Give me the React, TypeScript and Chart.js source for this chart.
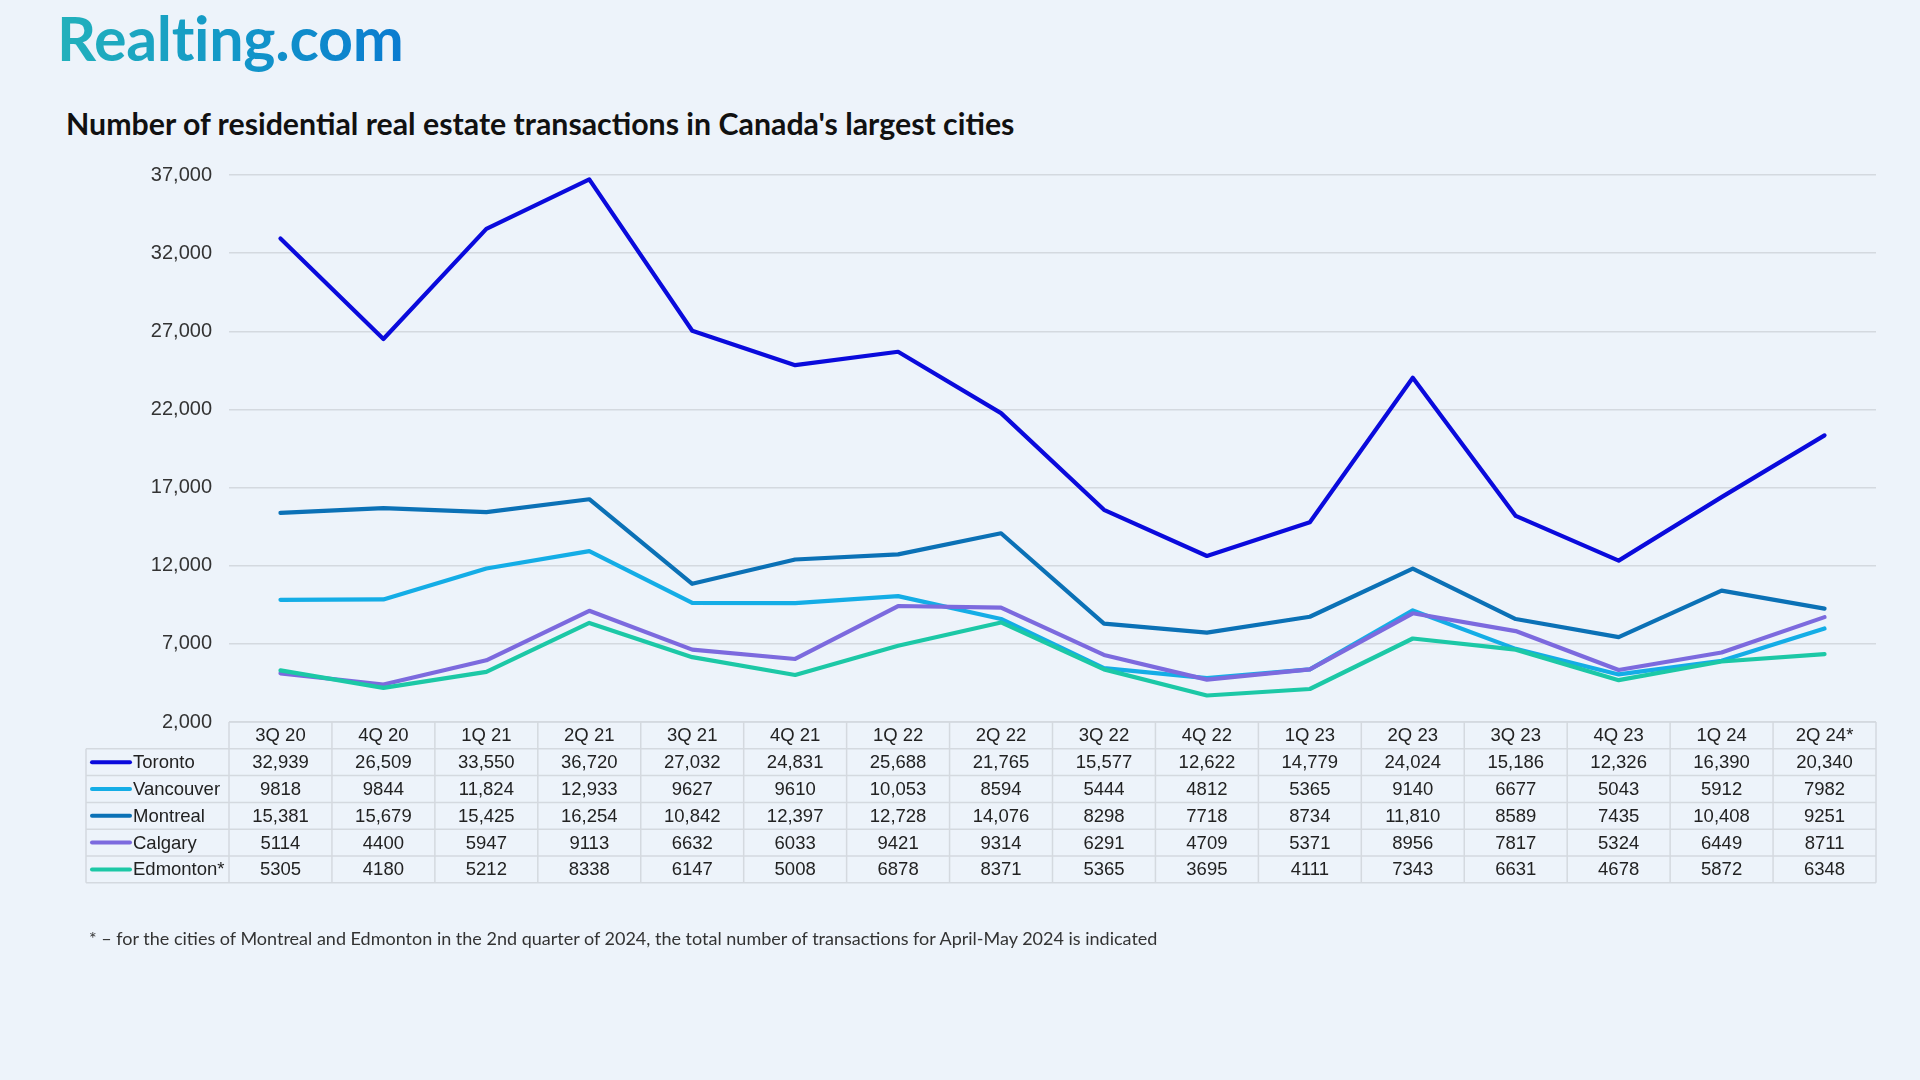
import React, { useEffect, useRef } from "react";
import { Chart, registerables } from "chart.js";
Chart.register(...registerables);

const quarters = ["3Q 20", "4Q 20", "1Q 21", "2Q 21", "3Q 21", "4Q 21", "1Q 22", "2Q 22", "3Q 22", "4Q 22", "1Q 23", "2Q 23", "3Q 23", "4Q 23", "1Q 24", "2Q 24*"];
const toronto = [32939, 26509, 33550, 36720, 27032, 24831, 25688, 21765, 15577, 12622, 14779, 24024, 15186, 12326, 16390, 20340];
const vancouver = [9818, 9844, 11824, 12933, 9627, 9610, 10053, 8594, 5444, 4812, 5365, 9140, 6677, 5043, 5912, 7982];
const montreal = [15381, 15679, 15425, 16254, 10842, 12397, 12728, 14076, 8298, 7718, 8734, 11810, 8589, 7435, 10408, 9251];
const calgary = [5114, 4400, 5947, 9113, 6632, 6033, 9421, 9314, 6291, 4709, 5371, 8956, 7817, 5324, 6449, 8711];
const edmonton = [5305, 4180, 5212, 8338, 6147, 5008, 6878, 8371, 5365, 3695, 4111, 7343, 6631, 4678, 5872, 6348];
const seriesNames = ["Toronto", "Vancouver", "Montreal", "Calgary", "Edmonton*"];
const seriesValues = [toronto, vancouver, montreal, calgary, edmonton];
const seriesColors = ["#0a0adc", "#14ade6", "#0b71b6", "#7c6ade", "#1cc8a6"];
const yMin = 2000;
const yMax = 37000;
const yStep = 5000;

const TITLE = "Number of residential real estate transactions in Canada's largest cities";
const FOOTNOTE = "* \u2013 for the cities of Montreal and Edmonton in the 2nd quarter of 2024, the total number of transactions for April-May 2024 is indicated";

const fmtAxis = (v: number) => v.toLocaleString("en-US");
const fmtCell = (v: number) => (v >= 10000 ? v.toLocaleString("en-US") : String(v));

const TABLE_FONT = '18.5px "Liberation Sans", Arial, sans-serif';
const GRID = "#d4d9df";

const tablePlugin = {
  id: "dataTable",
  afterDraw(chart: any) {
    const ctx = chart.ctx as CanvasRenderingContext2D;
    const xs = chart.scales.x;
    const area = chart.chartArea;
    const n = quarters.length;
    const colW = (area.right - area.left) / n;
    const top = area.bottom;
    const rowH = 26.8;
    const legendLeft = 86;
    const rows = seriesNames.length;
    const bottom = top + rowH * (rows + 1);
    ctx.save();
    ctx.strokeStyle = GRID;
    ctx.lineWidth = 1.5;
    ctx.beginPath();
    ctx.moveTo(area.left, top);
    ctx.lineTo(area.right, top);
    for (let r = 1; r <= rows + 1; r++) {
      const y = top + rowH * r;
      ctx.moveTo(legendLeft, y);
      ctx.lineTo(area.right, y);
    }
    ctx.moveTo(legendLeft, top + rowH);
    ctx.lineTo(legendLeft, bottom);
    for (let c = 0; c <= n; c++) {
      const x = area.left + colW * c;
      ctx.moveTo(x, top);
      ctx.lineTo(x, bottom);
    }
    ctx.stroke();

    ctx.font = TABLE_FONT;
    ctx.fillStyle = "#222";
    ctx.textBaseline = "middle";
    ctx.textAlign = "center";
    quarters.forEach((q, i) => {
      ctx.fillText(q, xs.getPixelForValue(i), top + rowH / 2 + 1);
    });
    seriesValues.forEach((vals, r) => {
      const cy = top + rowH * (r + 1) + rowH / 2 + 1;
      ctx.textAlign = "center";
      ctx.fillStyle = "#222";
      vals.forEach((v, i) => {
        ctx.fillText(fmtCell(v), xs.getPixelForValue(i), cy);
      });
      ctx.strokeStyle = seriesColors[r];
      ctx.lineWidth = 4;
      ctx.lineCap = "round";
      ctx.beginPath();
      ctx.moveTo(legendLeft + 6, cy - 1);
      ctx.lineTo(legendLeft + 44, cy - 1);
      ctx.stroke();
      ctx.textAlign = "left";
      ctx.fillStyle = "#222";
      ctx.fillText(seriesNames[r], legendLeft + 47, cy);
    });
    ctx.restore();
  },
};

export default function App() {
  const ref = useRef<HTMLCanvasElement | null>(null);
  useEffect(() => {
    document.body.style.margin = "0";
    const canvas = ref.current;
    if (!canvas) return;
    const chart = new Chart(canvas, {
      type: "line",
      data: {
        labels: quarters,
        datasets: seriesValues.map((vals, i) => ({
          label: seriesNames[i],
          data: vals,
          borderColor: seriesColors[i],
          backgroundColor: seriesColors[i],
          borderWidth: 4.2,
          pointRadius: 0,
          tension: 0,
          borderJoinStyle: "round" as const,
          borderCapStyle: "round" as const,
          order: seriesNames.length - i,
        })),
      },
      options: {
        animation: false,
        responsive: false,
        devicePixelRatio: 1,
        layout: { padding: { left: 149, right: 44, top: 175, bottom: 358 } },
        plugins: { legend: { display: false }, tooltip: { enabled: false }, title: { display: false } },
        scales: {
          x: { display: false, offset: true, grid: { display: false } },
          y: {
            min: yMin,
            max: yMax,
            afterFit: (s: any) => {
              s.width = 80;
            },
            border: { display: false },
            grid: { color: GRID, lineWidth: 1.5, drawTicks: false },
            ticks: {
              stepSize: yStep,
              padding: 17,
              color: "#333",
              font: { family: '"Liberation Sans", Arial, sans-serif', size: 20 },
              callback: (v: any) => fmtAxis(Number(v)),
            },
          },
        },
      },
      plugins: [tablePlugin],
    });
    return () => chart.destroy();
  }, []);

  return (
    <div style={{ position: "relative", width: 1920, height: 1080, background: "#edf3fa", overflow: "hidden" }}>
      <div
        style={{
          position: "absolute",
          left: 57,
          top: -2,
          fontFamily: "Lato, 'Noto Sans', sans-serif",
          fontWeight: 700,
          fontSize: 61,
          lineHeight: "80px",
          letterSpacing: -0.3,
          background: "linear-gradient(90deg, #22b1bb 0%, #1398c8 50%, #0a7bd0 100%)",
          WebkitBackgroundClip: "text",
          backgroundClip: "text",
          color: "transparent",
        }}
      >
        Realting.com
      </div>
      <div
        style={{
          position: "absolute",
          left: 66,
          top: 104,
          fontFamily: "Lato, 'Noto Sans', sans-serif",
          fontWeight: 700,
          fontSize: 30.3,
          lineHeight: "38px",
          color: "#111",
          whiteSpace: "nowrap",
        }}
      >
        {TITLE}
      </div>
      <canvas ref={ref} width={1920} height={1080} style={{ position: "absolute", left: 0, top: 0 }} />
      <div
        style={{
          position: "absolute",
          left: 89,
          top: 926,
          fontFamily: "Lato, 'Noto Sans', sans-serif",
          fontSize: 18,
          lineHeight: "24px",
          color: "#333",
          whiteSpace: "nowrap",
        }}
      >
        {FOOTNOTE}
      </div>
    </div>
  );
}
